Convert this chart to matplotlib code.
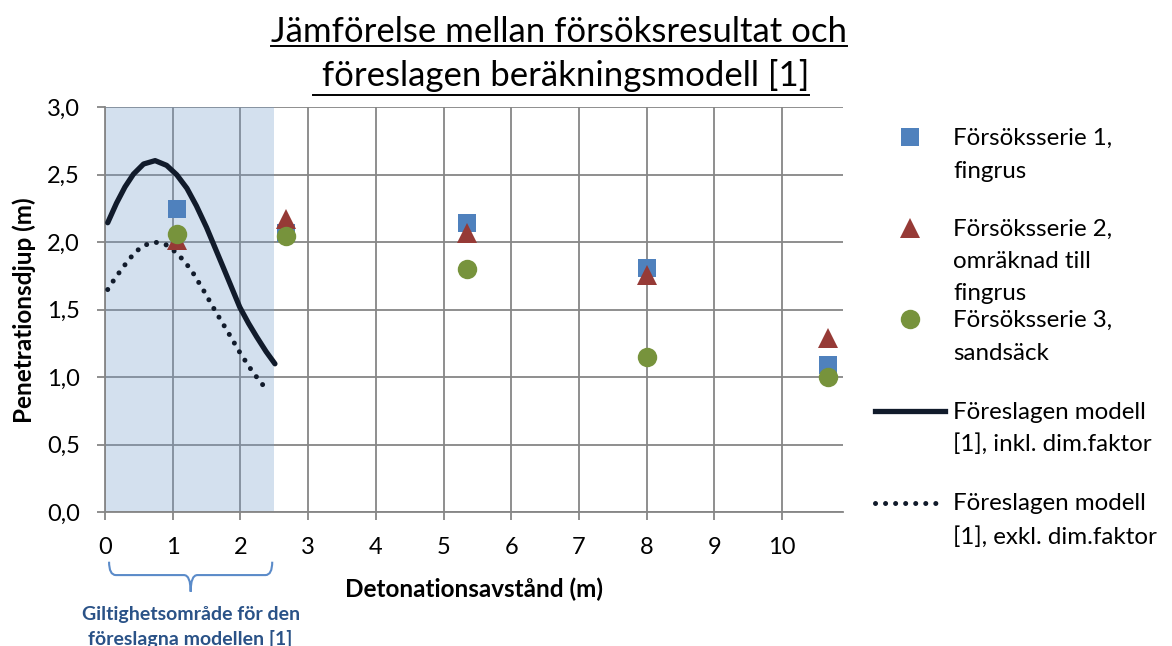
import matplotlib.pyplot as plt
from matplotlib.path import Path
from matplotlib.patches import PathPatch
from matplotlib.lines import Line2D
from matplotlib.transforms import blended_transform_factory

plt.rcParams['font.family'] = ['Lato', 'DejaVu Sans']

# test distances (m)
x_tests = [1.07, 2.67, 5.34, 8.01, 10.68]
# series 1, fingrus
y_serie1 = [2.25, 2.07, 2.14, 1.81, 1.09]
# series 2, recalculated to fingrus
y_serie2 = [2.02, 2.17, 2.07, 1.76, 1.29]
# series 3, sandsäck
y_serie3 = [2.06, 2.05, 1.80, 1.15, 1.00]

# proposed model incl. dim. factor
x_model_inkl = [0.04, 0.17, 0.295, 0.42, 0.57, 0.74, 0.91, 1.06, 1.21, 1.35, 1.50, 1.60,
                1.75, 1.99, 2.12, 2.24, 2.38, 2.51]
y_model_inkl = [2.145, 2.29, 2.41, 2.505, 2.58, 2.605, 2.57, 2.50, 2.40, 2.27, 2.11, 1.99,
                1.81, 1.52, 1.40, 1.30, 1.19, 1.10]
# proposed model excl. dim. factor
x_model_exkl = [0.04, 0.13, 0.23, 0.335, 0.45, 0.59, 0.75, 0.91, 1.06, 1.17, 1.28, 1.46,
                1.63, 1.81, 1.99, 2.18, 2.40]
y_model_exkl = [1.65, 1.72, 1.79, 1.86, 1.93, 1.98, 2.00, 1.98, 1.92, 1.86, 1.79, 1.64,
                1.49, 1.34, 1.185, 1.04, 0.90]

valid_range = (0, 2.5)
x_ticks = list(range(0, 11))
y_ticks = [0, 0.5, 1.0, 1.5, 2.0, 2.5, 3.0]
y_ticklabels = ['0,0', '0,5', '1,0', '1,5', '2,0', '2,5', '3,0']

blue = '#4f81bd'
red = '#963a36'
green = '#77933c'
navy = '#111b2b'
grid_grey = '#868686'
text_blue = '#2a5287'

W, H = 1172, 646
fig = plt.figure(figsize=(W / 100, H / 100), dpi=100)
ax = fig.add_axes([105 / W, 1 - 512.3 / H, 738 / W, 405 / H])

ax.set_xlim(0, 10.9)
ax.set_ylim(0, 3.0)
ax.set_xticks(x_ticks)
ax.set_yticks(y_ticks)
ax.set_yticklabels(y_ticklabels)
ax.grid(True, color=grid_grey, linewidth=1.3, zorder=0)
ax.set_axisbelow(True)
for side in ['top', 'right']:
    ax.spines[side].set_visible(False)
for side in ['left', 'bottom']:
    ax.spines[side].set_color(grid_grey)
    ax.spines[side].set_linewidth(1.3)
ax.tick_params(axis='both', colors=grid_grey, length=6, width=1.3, labelsize=17,
               labelcolor='black')
ax.tick_params(axis='x', pad=12)
ax.tick_params(axis='y', pad=12)

# valid range shading (drawn over the grid, semi transparent)
ax.axvspan(valid_range[0], valid_range[1], ymin=0, ymax=1, color='#749bcb', alpha=0.31,
           linewidth=0, zorder=1)

ax.plot(x_model_inkl, y_model_inkl, color=navy, linewidth=3.8, solid_capstyle='round',
        solid_joinstyle='round', zorder=3)
ax.plot(x_model_exkl, y_model_exkl, color=navy, linewidth=3.6, linestyle=(0, (0.01, 2.0)),
        dash_capstyle='round', zorder=3)

ax.plot(x_tests, y_serie1, 's', color=blue, markersize=13.5, markeredgewidth=0, zorder=4)
ax.plot(x_tests, y_serie2, '^', color=red, markersize=15, markeredgewidth=0, zorder=5)
ax.plot(x_tests, y_serie3, 'o', color=green, markersize=14, markeredgewidth=0, zorder=6)

ax.set_xlabel('Detonationsavstånd (m)', fontsize=17.5, fontweight='bold', labelpad=14)
ax.set_ylabel('Penetrationsdjup (m)', fontsize=17.5, fontweight='bold', labelpad=8)

# title with underline
t1 = fig.text(559 / W, 1 - 32 / H, 'Jämförelse mellan försöksresultat och', ha='center',
              va='center', fontsize=25)
t2 = fig.text(561 / W, 1 - 75 / H, ' föreslagen beräkningsmodell [1]', ha='center',
              va='center', fontsize=25)
fig.canvas.draw()
for t, yline in [(t1, 46), (t2, 95)]:
    bb = t.get_window_extent()
    fig.add_artist(Line2D([bb.x0 / W, bb.x1 / W], [1 - yline / H] * 2, color='black',
                          linewidth=1.4, transform=fig.transFigure))

# brace under the valid range
tr = blended_transform_factory(ax.transData, ax.transAxes)
x0, x1 = valid_range[0] + 0.06, valid_range[1] - 0.03
xm = (x0 + x1) / 2
ytop, ymid, ytip = -0.122, -0.155, -0.196
verts = [(x0, ytop), (x0, ymid), (x0 + 0.1, ymid),
         (xm - 0.1, ymid), (xm, ymid), (xm, ytip),
         (xm, ymid), (xm + 0.1, ymid),
         (x1 - 0.1, ymid), (x1, ymid), (x1, ytop)]
codes = [Path.MOVETO, Path.CURVE3, Path.CURVE3,
         Path.LINETO, Path.CURVE3, Path.CURVE3,
         Path.CURVE3, Path.CURVE3,
         Path.LINETO, Path.CURVE3, Path.CURVE3]
ax.add_patch(PathPatch(Path(verts, codes), facecolor='none', edgecolor='#5b8bc9',
                       linewidth=1.5, transform=tr, clip_on=False))
ax.text(xm, -0.232, 'Giltighetsområde för den\nföreslagna modellen [1]', transform=tr,
        ha='center', va='top', fontsize=14, fontweight='bold', color=text_blue,
        linespacing=1.45)

# legend, drawn by hand to follow the reference layout
mx, tx = 910, 953
legend_markers = [('s', blue, 13.5, 137), ('^', red, 15, 228), ('o', green, 14, 319)]
for marker, col, ms, yy in legend_markers:
    fig.add_artist(Line2D([mx / W], [1 - yy / H], marker=marker, color=col, markersize=ms,
                          markeredgewidth=0, linestyle='none', transform=fig.transFigure))
fig.add_artist(Line2D([875 / W, 945 / W], [1 - 411 / H] * 2, color=navy, linewidth=3.8,
                      transform=fig.transFigure))
fig.add_artist(Line2D([875 / W, 942 / W], [1 - 503 / H] * 2, color=navy, linewidth=3.6,
                      linestyle=(0, (0.01, 2.0)), dash_capstyle='round',
                      transform=fig.transFigure))
legend_lines = [('Försöksserie 1,', 137), ('fingrus', 170),
                ('Försöksserie 2,', 228), ('omräknad till', 260), ('fingrus', 292),
                ('Försöksserie 3,', 319), ('sandsäck', 352),
                ('Föreslagen modell', 411), ('[1], inkl. dim.faktor', 443),
                ('Föreslagen modell', 502), ('[1], exkl. dim.faktor', 536)]
for txt, yy in legend_lines:
    fig.text(tx / W, 1 - (yy + 8) / H, txt, ha='left', va='baseline', fontsize=17.4)

fig.savefig('out.png', dpi=100)
